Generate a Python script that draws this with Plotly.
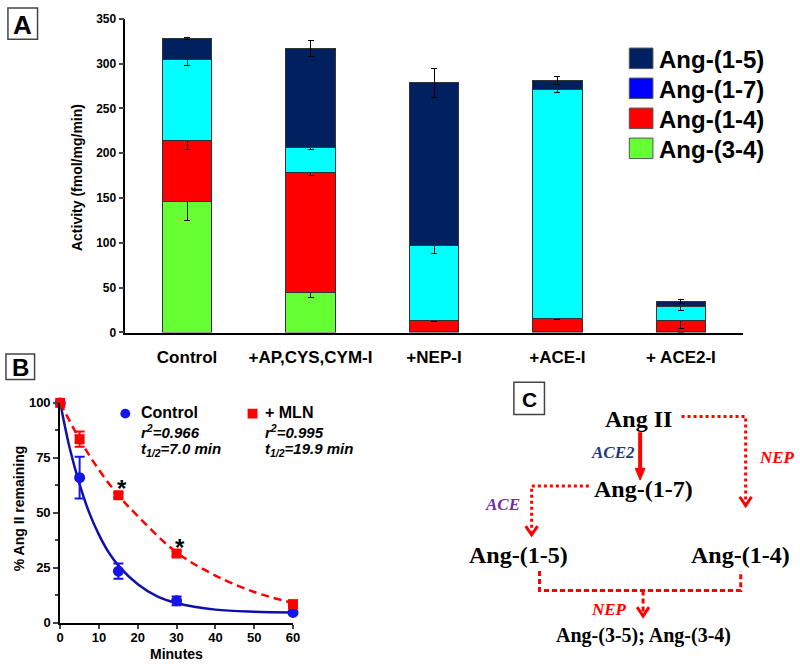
import plotly.graph_objects as go

# ---- panel A data (stacked activity, fmol/mg/min) ----
categories = ["Control", "+AP,CYS,CYM-I", "+NEP-I", "+ACE-I", "+ ACE2-I"]
ang34 = [146, 45, 1.5, 1, 1.5]
ang34_err = [21, 6, 0, 0, 2]
ang14 = [68, 134, 12, 15, 12]
ang14_err = [10, 4, 1.5, 1, 9]
ang17 = [90, 27, 84, 255, 16]
ang17_err = [6, 2, 9.5, 3, 5]
ang15 = [24, 111, 181, 10, 5]
ang15_err = [1.5, 9, 16, 4, 2]

# ---- panel B data (% Ang II remaining) ----
minutes = [0, 5, 15, 30, 60]
control_pct = [100, 66, 23.5, 10, 4.7]
control_sem = [0, 9.5, 3.5, 2, 0.5]
mln_pct = [100, 83.5, 58, 31.5, 8.5]
mln_sem = [0, 3.5, 1, 1, 0.5]

fit_min_control = [0, 2.5, 5, 7.5, 10, 12.5, 15, 20, 25, 30, 40, 50, 60]
control_fit = [100, 79, 63, 50, 40, 32, 26, 17.5, 12, 9, 6, 5, 4.7]
fit_min_mln = [0, 5, 10, 15, 20, 30, 40, 50, 60]
mln_fit = [100, 83.5, 69.5, 58, 48.5, 32, 21.5, 14, 9]

W, H = 800, 666
SANS = "Arial, Liberation Sans, sans-serif"
SERIF = "Times New Roman, Liberation Serif, serif"
RED = "#FF0000"


def px(x):
    return x / W


def py(y):
    return 1 - y / H


fig = go.Figure()

seg_colors = ["#66FF33", "#FF0000", "#00FFFF", "#002060"]
for vals, errs, col in zip([ang34, ang14, ang17, ang15],
                           [ang34_err, ang14_err, ang17_err, ang15_err], seg_colors):
    fig.add_trace(go.Bar(
        x=categories, y=vals, marker_color=col,
        marker_line=dict(color="#333333", width=1),
        error_y=dict(type="data", array=errs, color="black", thickness=1, width=3),
        width=0.4, showlegend=False, xaxis="x", yaxis="y"
    ))

# panel B fits and points
fig.add_trace(go.Scatter(x=fit_min_control, y=control_fit, mode="lines",
                         line=dict(color="#1010A8", width=2.5, shape="spline"),
                         showlegend=False, xaxis="x2", yaxis="y2", cliponaxis=False))
fig.add_trace(go.Scatter(x=fit_min_mln, y=mln_fit, mode="lines",
                         line=dict(color=RED, width=2.5, dash="8px,5px", shape="spline"),
                         showlegend=False, xaxis="x2", yaxis="y2", cliponaxis=False))
fig.add_trace(go.Scatter(x=minutes, y=control_pct, mode="markers",
                         marker=dict(color="#1515E8", size=11, symbol="circle"),
                         error_y=dict(type="data", array=control_sem, color="#1515E8", thickness=2, width=5),
                         showlegend=False, xaxis="x2", yaxis="y2", cliponaxis=False))
fig.add_trace(go.Scatter(x=minutes, y=mln_pct, mode="markers",
                         marker=dict(color=RED, size=10, symbol="square"),
                         error_y=dict(type="data", array=mln_sem, color=RED, thickness=2, width=5),
                         showlegend=False, xaxis="x2", yaxis="y2", cliponaxis=False))

shapes = []
ann = []


def text(x, y, t, size, color="black", family=SANS, xanchor="center", angle=0, weight="bold"):
    ann.append(dict(x=px(x), y=py(y), xref="paper", yref="paper", text=t, showarrow=False,
                    xanchor=xanchor, yanchor="middle", textangle=angle,
                    font=dict(family=family, size=size, color=color, weight=weight)))


def box(x0, y0, x1, y1, letter, size):
    shapes.append(dict(type="rect", xref="paper", yref="paper", x0=px(x0), y0=py(y1), x1=px(x1), y1=py(y0),
                       line=dict(color="#444444", width=1.5)))
    text((x0 + x1) / 2, (y0 + y1) / 2 + 1, letter, size)


def path(points, color=RED, width=3, dash="solid", fill=None):
    d = "M " + " L ".join(f"{px(x):.5f},{py(y):.5f}" for x, y in points)
    if fill:
        d += " Z"
    shapes.append(dict(type="path", xref="paper", yref="paper", path=d,
                       line=dict(color=color, width=width, dash=dash),
                       fillcolor=fill if fill else "rgba(0,0,0,0)"))


def vhead(x, y, color=RED):
    path([(x - 6, y - 9), (x, y), (x + 6, y - 9)], color=color, width=3)


# panel labels
box(4, 1, 34, 33, "A", 26)
box(2, 355, 31, 381, "B", 24)
box(517, 384, 548, 417, "C", 21)

# panel A legend (drawn by hand, Ang-(1-7) swatch is blue in the original)
leg_names = ["Ang-(1-5)", "Ang-(1-7)", "Ang-(1-4)", "Ang-(3-4)"]
leg_colors = ["#002060", "#0000FF", "#FF0000", "#66FF33"]
for i, (nm, col) in enumerate(zip(leg_names, leg_colors)):
    yc = 52.5 + i * 30.7
    shapes.append(dict(type="rect", xref="paper", yref="paper", x0=px(634), x1=px(658),
                       y0=py(yc + 10.5), y1=py(yc - 10.5), fillcolor=col,
                       line=dict(color="#555555", width=1)))
    text(662, yc + 1, nm, 24, xanchor="left")

# axis titles
text(74, 174, "Activity (fmol/mg/min)", 14, angle=-90)
text(16, 513, "% Ang II remaining", 14, angle=-90)
text(175, 662, "Minutes", 14)

# panel B legend
shapes.append(dict(type="circle", xref="paper", yref="paper", x0=px(118), x1=px(128),
                   y0=py(421), y1=py(411), fillcolor="#1515E8", line=dict(width=0)))
shapes.append(dict(type="rect", xref="paper", yref="paper", x0=px(247), x1=px(257),
                   y0=py(421), y1=py(411), fillcolor=RED, line=dict(width=0)))
text(137, 415, "Control", 16, xanchor="left")
text(137, 434, "<i>r<sup>2</sup>=0.966</i>", 15, xanchor="left")
text(137, 453, "<i>t<sub>1/2</sub>=7.0 min</i>", 15, xanchor="left")
text(263, 415, "+ MLN", 16, xanchor="left")
text(263, 434, "<i>r<sup>2</sup>=0.995</i>", 15, xanchor="left")
text(263, 453, "<i>t<sub>1/2</sub>=19.9 min</i>", 15, xanchor="left")
text(120, 493, "*", 24)
text(178, 553, "*", 24)

# panel C pathway diagram
text(643, 421, "Ang II", 24, family=SERIF)
text(648, 493, "Ang-(1-7)", 24, family=SERIF)
text(522, 561, "Ang-(1-5)", 24, family=SERIF)
text(747, 561, "Ang-(1-4)", 24, family=SERIF)
text(648, 643, "Ang-(3-5); Ang-(3-4)", 20, family=SERIF)
text(617, 456, "<i>ACE2</i>", 17, color="#1F3A7A", family=SERIF)
text(505, 509, "<i>ACE</i>", 17, color="#7030A0", family=SERIF)
text(763, 461, "<i>NEP</i>", 17, color=RED, family=SERIF, xanchor="left")
text(613, 616, "<i>NEP</i>", 17, color=RED, family=SERIF)

path([(645, 435), (645, 472)], width=4)
path([(640, 472), (650, 472), (645, 484)], width=1, fill=RED)
path([(593, 490), (535, 490), (535, 538)], dash="3px,3px")
vhead(535, 540)
path([(687, 419), (752, 419), (752, 508)], dash="3px,3px")
vhead(752, 510)
path([(543, 577), (543, 597), (747, 597), (747, 577)], dash="5px,3px")
path([(648, 597), (648, 620)], dash="5px,3px")
vhead(648, 623)

fig.update_layout(
    width=W, height=H, margin=dict(l=0, r=0, t=0, b=0),
    paper_bgcolor="white", plot_bgcolor="white",
    barmode="stack", bargap=0.6,
    font=dict(family=SANS, color="black"),
    xaxis=dict(domain=[px(123), px(749)], anchor="y", showline=True, linecolor="black", linewidth=2,
               ticks="", showgrid=False, tickfont=dict(size=17, weight="bold"), ticklabelstandoff=8),
    yaxis=dict(domain=[py(333), py(12)], anchor="x", range=[0, 350], dtick=50, showline=True,
               linecolor="black", linewidth=1.5, ticks="outside", ticklen=5, tickwidth=1.5,
               showgrid=False, zeroline=False, tickfont=dict(size=12, weight="bold")),
    xaxis2=dict(domain=[px(57), px(293)], anchor="y2", range=[0, 60], dtick=10, showline=True,
                linecolor="black", linewidth=2, ticks="outside", ticklen=4, tickwidth=2,
                ticklabelstandoff=-2,
                showgrid=False, zeroline=False, tickfont=dict(size=13, weight="bold")),
    yaxis2=dict(domain=[py(630), py(405)], anchor="x2", range=[0, 100], dtick=25, showline=True,
                linecolor="black", linewidth=2, ticks="outside", ticklen=5, tickwidth=2,
                minor=dict(dtick=12.5, ticks="outside", ticklen=3, tickwidth=1.5),
                showgrid=False, zeroline=False, tickfont=dict(size=13, weight="bold")),
    shapes=shapes, annotations=ann,
)

# drop the default page margin so the 800x666 figure fills the window exactly
fig.write_html("out.html", config={"displayModeBar": False},
               post_script="document.body.style.margin='0';document.body.style.overflow='hidden';")
